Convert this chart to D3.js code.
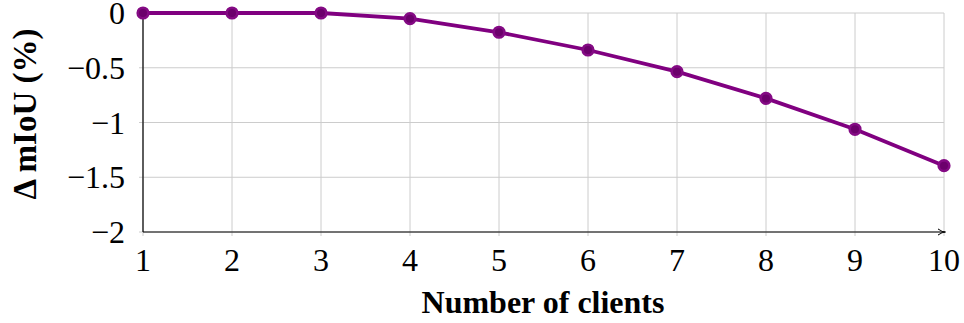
<!DOCTYPE html>
<html>
<head>
<meta charset="utf-8">
<script src="https://cdn.jsdelivr.net/npm/d3@7"></script>
<style>
  body { margin: 0; background: #fff; }
</style>
</head>
<body>
<script>
// data
var clients = [1, 2, 3, 4, 5, 6, 7, 8, 9, 10];
var deltaMiou = [0, 0, 0, -0.052, -0.176, -0.338, -0.536, -0.78, -1.062, -1.394];
var yTicks = [0, -0.5, -1, -1.5, -2];
var yTickLabels = ['0', '\u22120.5', '\u22121', '\u22121.5', '\u22122'];

var W = 964, H = 323;
var margin = {top: 13, right: 20, bottom: 91, left: 143};
var width = W - margin.left - margin.right,
	height = H - margin.top - margin.bottom;

var lineColor = '#800080',
	gridColor = '#cccccc',
	fontFam = "'Liberation Serif', 'Times New Roman', 'DejaVu Serif', serif";

var svg = d3.select('body').append('svg')
	.attr('width', W)
	.attr('height', H)
	.attr('font-family', fontFam)
	.style('font-family', fontFam);

var g = svg.append('g')
	.attr('transform', 'translate(' + margin.left + ',' + margin.top + ')');

var x = d3.scaleLinear().domain([1, 10]).range([0, width]);
var y = d3.scaleLinear().domain([-2, 0]).range([height, 0]);

// grid lines
g.append('g')
	.selectAll('line')
	.data(clients)
	.enter().append('line')
	.attr('x1', function(d) { return x(d); })
	.attr('x2', function(d) { return x(d); })
	.attr('y1', 0)
	.attr('y2', height + 4)
	.attr('stroke', gridColor)
	.attr('stroke-width', 1);

g.append('g')
	.selectAll('line')
	.data(yTicks)
	.enter().append('line')
	.attr('x1', -4)
	.attr('x2', width)
	.attr('y1', function(d) { return y(d); })
	.attr('y2', function(d) { return y(d); })
	.attr('stroke', gridColor)
	.attr('stroke-width', 1);

// axis lines
g.append('line')
	.attr('x1', 0).attr('x2', 0)
	.attr('y1', y(0)).attr('y2', height)
	.attr('stroke', '#000').attr('stroke-width', 1.2);

svg.append('defs').append('marker')
	.attr('id', 'arrow')
	.attr('viewBox', '0 0 10 10')
	.attr('refX', 9).attr('refY', 5)
	.attr('markerWidth', 8).attr('markerHeight', 8)
	.attr('markerUnits', 'userSpaceOnUse')
	.attr('orient', 'auto')
	.append('path')
	.attr('d', 'M0,1 Q5,5 10,5 Q5,5 0,9')
	.attr('fill', 'none')
	.attr('stroke', '#000')
	.attr('stroke-width', 1.3);

g.append('line')
	.attr('x1', 0).attr('x2', width + 1)
	.attr('y1', height).attr('y2', height)
	.attr('stroke', '#000').attr('stroke-width', 1.2)
	.attr('marker-end', 'url(#arrow)');

// tick labels
g.append('g')
	.selectAll('text')
	.data(clients)
	.enter().append('text')
	.attr('x', function(d) { return x(d); })
	.attr('y', height + 39)
	.attr('text-anchor', 'middle')
	.style('font-size', '32px')
	.text(function(d) { return d; });

g.append('g')
	.selectAll('text')
	.data(yTicks)
	.enter().append('text')
	.attr('x', -18)
	.attr('y', function(d) { return y(d) + 11; })
	.attr('text-anchor', 'end')
	.style('font-size', '32px')
	.text(function(d, i) { return yTickLabels[i]; });

// axis titles
svg.append('text')
	.attr('x', 543)
	.attr('y', 313)
	.attr('text-anchor', 'middle')
	.style('font-size', '32px')
	.style('font-weight', 'bold')
	.text('Number of clients');

svg.append('text')
	.attr('transform', 'translate(36,114) rotate(-90)')
	.attr('text-anchor', 'middle')
	.style('font-size', '33px')
	.style('font-weight', 'bold')
	.text('\u0394 mIoU (%)');

// data line and markers
var line = d3.line()
	.x(function(d, i) { return x(clients[i]); })
	.y(function(d) { return y(d); });

g.append('path')
	.attr('d', line(deltaMiou))
	.attr('fill', 'none')
	.attr('stroke', lineColor)
	.attr('stroke-width', 3.8)
	.attr('stroke-linejoin', 'round');

g.append('g')
	.selectAll('circle')
	.data(deltaMiou)
	.enter().append('circle')
	.attr('cx', function(d, i) { return x(clients[i]); })
	.attr('cy', function(d) { return y(d); })
	.attr('r', 5.3)
	.attr('fill', '#6c006c')
	.attr('stroke', '#840a84')
	.attr('stroke-width', 2.6);
</script>
</body>
</html>
